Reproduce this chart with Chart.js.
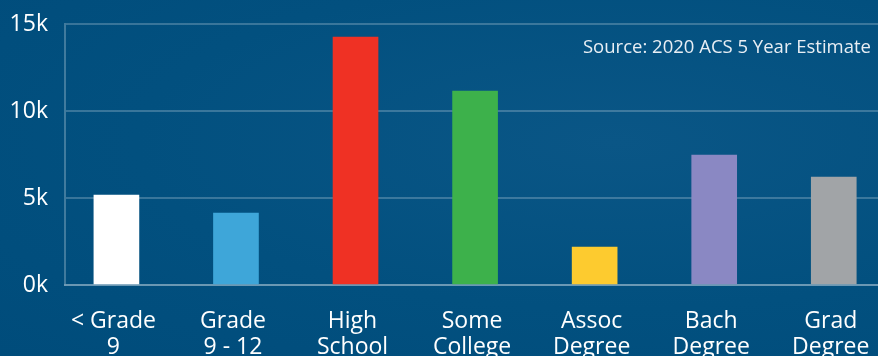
<!DOCTYPE html>
<html>
<head>
<meta charset="utf-8">
<script src="https://cdn.jsdelivr.net/npm/chart.js@4"></script>
<style>
  html, body { margin: 0; padding: 0; overflow: hidden; }
  body { background: radial-gradient(ellipse at 70% 40%, #0a5686 0%, #02507f 55%, #004c7b 100%); }
  #wrap { width: 878px; height: 356px; position: relative; }
</style>
</head>
<body>
<div id="wrap"><canvas id="myChart"></canvas></div>
<script>
const categories = [['< Grade', '9'], ['Grade', '9 - 12'], ['High', 'School'], ['Some', 'College'],
                    ['Assoc', 'Degree'], ['Bach', 'Degree'], ['Grad', 'Degree']];
const people = [5170, 4140, 14250, 11150, 2180, 7470, 6200];
const barColors = ['#ffffff', '#3ea6d9', '#ef3124', '#3db14b', '#fdcb2f', '#8a88c3', '#a1a4a7'];
const yTicks = [0, 5000, 10000, 15000];
const sourceNote = 'Source: 2020 ACS 5 Year Estimate';

const FONT = "'Open Sans', sans-serif";

// draws the source note in the top right corner
const sourcePlugin = {
  id: 'sourceNote',
  afterDraw(chart) {
    const ctx = chart.ctx;
    ctx.save();
    ctx.font = "18.5px " + FONT;
    ctx.fillStyle = '#e8eef4';
    ctx.textAlign = 'right';
    ctx.textBaseline = 'alphabetic';
    ctx.fillText(sourceNote, 871, 53);
    ctx.restore();
  }
};

new Chart("myChart", {
  type: "bar",
  data: {
    datasets: [{
      data: people.map((v, i) => ({x: i, y: v})),
      backgroundColor: barColors,
      barThickness: 45
    }]
  },
  plugins: [sourcePlugin],
  options: {
    responsive: true,
    maintainAspectRatio: false,
    animation: false,
    layout: {padding: {top: 24, left: 0, right: 0, bottom: 0}},
    plugins: {legend: {display: false}, tooltip: {enabled: false}},
    scales: {
      x: {
        type: 'linear',
        offset: false,
        min: -0.43,
        max: 6.37,
        grid: {display: false, offset: false},
        border: {color: 'rgba(255,255,255,0.25)', width: 2},
        ticks: {
          stepSize: 1,
          includeBounds: false,
          autoSkip: false,
          maxRotation: 0,
          padding: 16,
          labelOffset: -3,
          color: '#ffffff',
          font: {family: FONT, size: 23, lineHeight: 1.12},
          callback: v => Number.isInteger(v) && categories[v] ? categories[v] : ''
        },
        afterFit: s => { s.height = 356 - 285; s.paddingLeft = 0; s.paddingRight = 0; }
      },
      y: {
        min: 0,
        max: 15000,
        grid: {color: 'rgba(255,255,255,0.22)', lineWidth: 2, drawTicks: false},
        border: {color: 'rgba(255,255,255,0.25)', width: 2},
        afterBuildTicks: s => { s.ticks = yTicks.map(v => ({value: v})); },
        ticks: {
          padding: 17,
          color: '#ffffff',
          font: {family: FONT, size: 23},
          callback: v => (v / 1000) + 'k'
        },
        afterFit: s => { s.width = 65; s.paddingTop = 0; s.paddingBottom = 0; }
      }
    }
  }
});
</script>
</body>
</html>
